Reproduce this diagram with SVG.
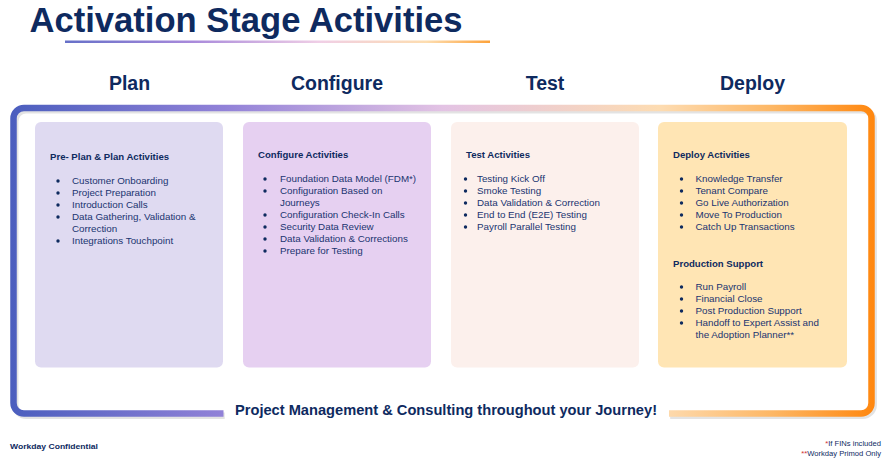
<svg xmlns="http://www.w3.org/2000/svg" width="888" height="463" viewBox="0 0 888 463">
<defs>
<linearGradient id="frameGrad" gradientUnits="userSpaceOnUse" x1="10" y1="0" x2="876" y2="0">
<stop offset="0" stop-color="#4B5EBE"/>
<stop offset="0.25" stop-color="#9282D8"/>
<stop offset="0.5" stop-color="#E3C3E4"/>
<stop offset="0.75" stop-color="#FDDCB2"/>
<stop offset="0.88" stop-color="#FDB765"/>
<stop offset="1" stop-color="#FF860D"/>
</linearGradient>
<linearGradient id="ulGrad" gradientUnits="userSpaceOnUse" x1="65" y1="0" x2="490" y2="0">
<stop offset="0" stop-color="#6670C8"/>
<stop offset="0.3" stop-color="#A98ADB"/>
<stop offset="0.6" stop-color="#F0CFE6"/>
<stop offset="0.85" stop-color="#FDDDB0"/>
<stop offset="1" stop-color="#FDA23A"/>
</linearGradient>
</defs>
<style>
.title{font-family:"Liberation Sans",Arial,sans-serif;font-weight:bold;fill:#0E2A5F}
.phase{font-family:"Liberation Sans",Arial,sans-serif;font-weight:bold;font-size:19.5px;fill:#0E2A5F;text-anchor:middle}
.hd{font-family:"Liberation Sans",Arial,sans-serif;font-weight:bold;font-size:9.6px;fill:#0E2A5F}
.it{font-family:"Liberation Sans",Arial,sans-serif;font-size:9.8px;fill:#1A3470}
.bul{fill:#0E2A5F}
.foot{font-family:"Liberation Sans",Arial,sans-serif;font-size:7.6px;fill:#0E2A5F}
.red{fill:#D0312D}
</style>
<rect width="888" height="463" fill="#FFFFFF"/>

<g id="title">
<text class="title" x="29.5" y="32" font-size="34.6">Activation Stage Activities</text>
<rect x="65" y="40.5" width="425" height="2.5" fill="url(#ulGrad)"/>
</g>

<g id="phase-labels">
<text class="phase" x="129.5" y="90">Plan</text>
<text class="phase" x="337" y="90">Configure</text>
<text class="phase" x="545" y="90">Test</text>
<text class="phase" x="752.5" y="90">Deploy</text>
</g>

<g id="connectors">
<path d="M223.5,414.5 H25 A11,11 0 0 1 14,403.5 V120 A11,11 0 0 1 25,109 H861.5 A11,11 0 0 1 872.5,120 V403.5 A11,11 0 0 1 861.5,414.5 H669" fill="none" stroke="#C8C8C8" stroke-width="6.5" opacity="0.5" transform="translate(1.2,1.2)"/>
<path d="M223.5,413.5 H24 A10.5,10.5 0 0 1 13.5,403 V118.5 A10.5,10.5 0 0 1 24,108 H861 A10.5,10.5 0 0 1 871.5,118.5 V403 A10.5,10.5 0 0 1 861,413.5 H669" fill="none" stroke="url(#frameGrad)" stroke-width="6.5"/>
<text class="title" x="235" y="415" font-size="14.6" textLength="422" lengthAdjust="spacingAndGlyphs">Project Management &amp; Consulting throughout your Journey!</text>
</g>

<g id="plan">
<rect x="35" y="122" width="188" height="245.5" rx="6" fill="#DFDAF1"/>
<text class="hd" x="50" y="160">Pre- Plan &amp; Plan Activities</text>
<g class="bul">
<circle cx="58" cy="181" r="1.7"/><circle cx="58" cy="193" r="1.7"/><circle cx="58" cy="205" r="1.7"/><circle cx="58" cy="217" r="1.7"/><circle cx="58" cy="241" r="1.7"/>
</g>
<text class="it" x="72" y="184">Customer Onboarding</text>
<text class="it" x="72" y="196">Project Preparation</text>
<text class="it" x="72" y="208">Introduction Calls</text>
<text class="it" x="72" y="220">Data Gathering, Validation &amp;</text>
<text class="it" x="72" y="232">Correction</text>
<text class="it" x="72" y="244">Integrations Touchpoint</text>
</g>

<g id="configure">
<rect x="243" y="122" width="188" height="245.5" rx="6" fill="#E6D0F1"/>
<text class="hd" x="258" y="158">Configure Activities</text>
<g class="bul">
<circle cx="265" cy="179" r="1.7"/><circle cx="265" cy="191" r="1.7"/><circle cx="265" cy="215" r="1.7"/><circle cx="265" cy="227" r="1.7"/><circle cx="265" cy="239" r="1.7"/><circle cx="265" cy="251" r="1.7"/>
</g>
<text class="it" x="280" y="182">Foundation Data Model (FDM*)</text>
<text class="it" x="280" y="194">Configuration Based on</text>
<text class="it" x="280" y="206">Journeys</text>
<text class="it" x="280" y="218">Configuration Check-In Calls</text>
<text class="it" x="280" y="230">Security Data Review</text>
<text class="it" x="280" y="242">Data Validation &amp; Corrections</text>
<text class="it" x="280" y="254">Prepare for Testing</text>
</g>

<g id="test">
<rect x="451" y="122" width="188" height="245.5" rx="6" fill="#FCF0EC"/>
<text class="hd" x="466" y="158">Test Activities</text>
<g class="bul">
<circle cx="465.5" cy="179" r="1.7"/><circle cx="465.5" cy="191" r="1.7"/><circle cx="465.5" cy="203" r="1.7"/><circle cx="465.5" cy="215" r="1.7"/><circle cx="465.5" cy="227" r="1.7"/>
</g>
<text class="it" x="477" y="182">Testing Kick Off</text>
<text class="it" x="477" y="194">Smoke Testing</text>
<text class="it" x="477" y="206">Data Validation &amp; Correction</text>
<text class="it" x="477" y="218">End to End (E2E) Testing</text>
<text class="it" x="477" y="230">Payroll Parallel Testing</text>
</g>

<g id="deploy">
<rect x="658" y="122" width="189" height="245.5" rx="6" fill="#FFE5B4"/>
<text class="hd" x="673" y="158">Deploy Activities</text>
<g class="bul">
<circle cx="681.5" cy="179" r="1.7"/><circle cx="681.5" cy="191" r="1.7"/><circle cx="681.5" cy="203" r="1.7"/><circle cx="681.5" cy="215" r="1.7"/><circle cx="681.5" cy="227" r="1.7"/>
<circle cx="681.5" cy="287" r="1.7"/><circle cx="681.5" cy="299" r="1.7"/><circle cx="681.5" cy="311" r="1.7"/><circle cx="681.5" cy="323" r="1.7"/>
</g>
<text class="it" x="695.5" y="182">Knowledge Transfer</text>
<text class="it" x="695.5" y="194">Tenant Compare</text>
<text class="it" x="695.5" y="206">Go Live Authorization</text>
<text class="it" x="695.5" y="218">Move To Production</text>
<text class="it" x="695.5" y="230">Catch Up Transactions</text>
<text class="hd" x="673" y="267">Production Support</text>
<text class="it" x="695.5" y="290">Run Payroll</text>
<text class="it" x="695.5" y="302">Financial Close</text>
<text class="it" x="695.5" y="314">Post Production Support</text>
<text class="it" x="695.5" y="326">Handoff to Expert Assist and</text>
<text class="it" x="695.5" y="338">the Adoption Planner**</text>
</g>

<g id="footer">
<text class="foot" x="10" y="449" font-weight="bold" font-size="8.8" textLength="88" lengthAdjust="spacingAndGlyphs">Workday Confidential</text>
<text class="foot" x="881" y="445.5" text-anchor="end"><tspan class="red">*</tspan>If FINs included</text>
<text class="foot" x="881" y="456" text-anchor="end"><tspan class="red">**</tspan>Workday Primod Only</text>
</g>
</svg>
